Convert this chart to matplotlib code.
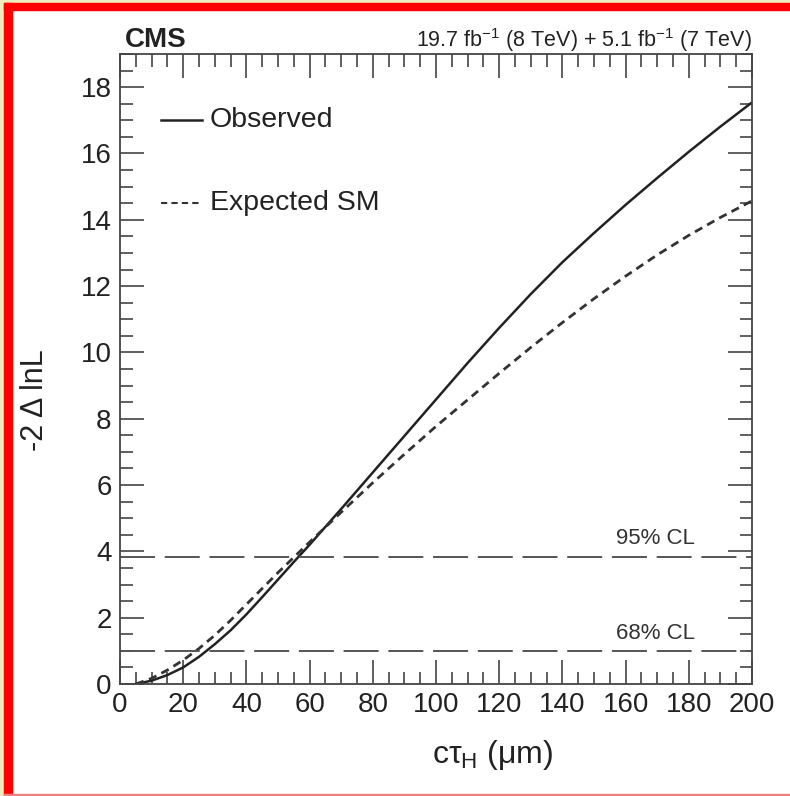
import matplotlib
matplotlib.use('Agg')
import matplotlib.pyplot as plt
from matplotlib.ticker import MultipleLocator
from matplotlib.patches import Rectangle

plt.rcParams['font.family'] = ['Liberation Sans', 'DejaVu Sans']
plt.rcParams['mathtext.fontset'] = 'custom'
plt.rcParams['mathtext.rm'] = 'Liberation Sans'
plt.rcParams['mathtext.it'] = 'Liberation Sans:italic'

# values
obs_x = [5, 10, 15, 20, 25, 30, 35, 40, 45, 50, 55, 60, 70, 80, 90, 100, 110, 120,
         130, 140, 150, 160, 170, 180, 190, 200]
obs_y = [0, 0.1, 0.27, 0.5, 0.82, 1.2, 1.62, 2.1, 2.62, 3.15, 3.68, 4.2, 5.28, 6.38,
         7.48, 8.58, 9.68, 10.74, 11.76, 12.72, 13.6, 14.45, 15.26, 16.05, 16.81, 17.54]
exp_x = [5, 10, 15, 20, 25, 30, 35, 40, 45, 50, 55, 60, 70, 80, 90, 100, 110, 120,
         130, 140, 150, 160, 170, 180, 190, 200]
exp_y = [0, 0.17, 0.42, 0.72, 1.07, 1.47, 1.92, 2.4, 2.88, 3.36, 3.82, 4.28, 5.18,
         6.07, 6.93, 7.77, 8.57, 9.37, 10.15, 10.9, 11.62, 12.3, 12.94, 13.53, 14.07, 14.57]
cl_levels = [1.0, 3.84]
cl_labels = ['68% CL', '95% CL']

fig = plt.figure(figsize=(7.9, 7.96), dpi=100)
fig.patch.set_facecolor('white')
# frame around the screenshot
fig.patches.append(Rectangle((0, 0), 0.005, 1, transform=fig.transFigure, color='#efedc0', zorder=0))
fig.patches.append(Rectangle((0, 0.996), 1, 0.004, transform=fig.transFigure, color='#efedc0', zorder=0))
fig.patches.append(Rectangle((0.005, 0), 0.0102, 0.996, transform=fig.transFigure, color='red', zorder=0))
fig.patches.append(Rectangle((0.005, 0.9874), 0.995, 0.0088, transform=fig.transFigure, color='red', zorder=0))
fig.patches.append(Rectangle((0.005, 0), 0.995, 0.003, transform=fig.transFigure, color='#f08080', zorder=0))

ax = fig.add_axes([0.1519, 0.1407, 0.80, 0.7915])
ax.plot(obs_x, obs_y, color='#222222', lw=1.8, solid_capstyle='butt')
ax.plot(exp_x, exp_y, color='#333333', lw=2.0, dashes=(3, 2))
for lev, lab in zip(cl_levels, cl_labels):
    ax.axhline(lev, color='#555555', lw=1.4, dashes=(18, 5))
    ax.text(169.5, lev + 0.22, lab, ha='center', va='bottom', fontsize=16, color='#333333')

# legend drawn by hand
ax.plot([13, 26], [17.0, 17.0], color='#222222', lw=1.8)
ax.text(28.5, 17.0, 'Observed', va='center', fontsize=20.5, color='#222222')
ax.plot([13, 26], [14.5, 14.5], color='#333333', lw=1.5, dashes=(3, 2))
ax.text(28.5, 14.5, 'Expected SM', va='center', fontsize=20.5, color='#222222')

ax.set_xlim(0, 200)
ax.set_ylim(0, 19)
ax.xaxis.set_major_locator(MultipleLocator(20))
ax.xaxis.set_minor_locator(MultipleLocator(5))
ax.yaxis.set_major_locator(MultipleLocator(2))
ax.yaxis.set_minor_locator(MultipleLocator(0.5))
ax.tick_params(which='both', direction='in', top=True, right=True, color='#444444',
               width=1.2, labelsize=20, labelcolor='#222222')
ax.tick_params(which='major', length=17, pad=6)
ax.tick_params(which='minor', length=9)
for s in ax.spines.values():
    s.set_color('#444444')
    s.set_linewidth(1.3)

ax.set_xlabel('c\u03c4$_{\\mathrm{H}}$ (\u03bcm)', fontsize=23, color='#222222')
ax.xaxis.set_label_coords(0.59, -0.085)
ax.set_ylabel('-2 \u0394 lnL', fontsize=22, color='#222222')
ax.yaxis.set_label_coords(-0.111, 0.45)

fig.text(0.158, 0.941, 'CMS', fontsize=20, fontweight='bold', color='#222222', va='baseline')
fig.text(0.952, 0.941, '19.7 fb$^{-1}$ (8 TeV) + 5.1 fb$^{-1}$ (7 TeV)', fontsize=15.5,
         color='#222222', ha='right', va='baseline')

fig.savefig('out.png', dpi=100)
